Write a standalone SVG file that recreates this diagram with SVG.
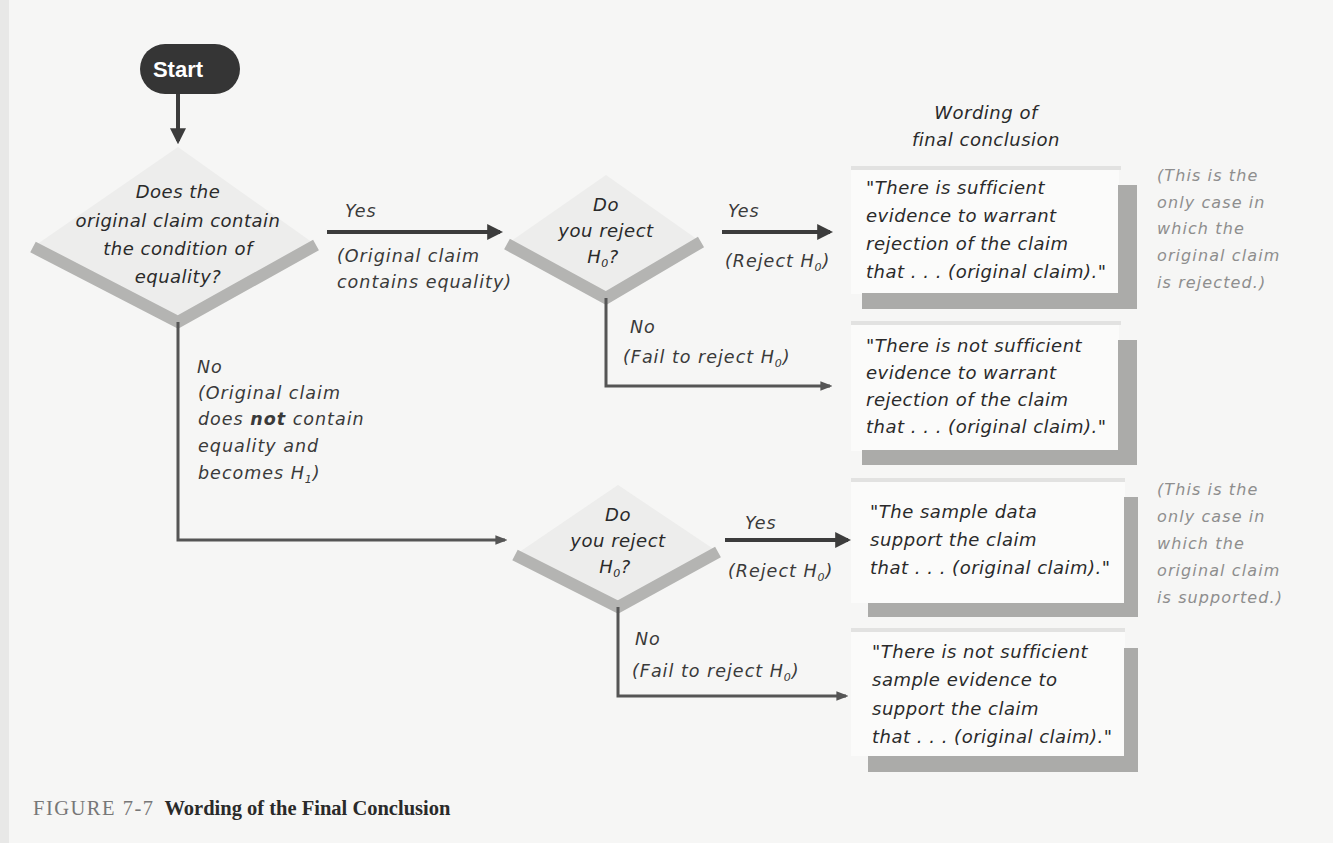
<svg xmlns="http://www.w3.org/2000/svg" width="1333" height="843" viewBox="0 0 1333 843">
<style>
.t{font-family:"DejaVu Sans","Liberation Sans",sans-serif;font-style:italic;font-size:18px;letter-spacing:0.5px;fill:#2a2a2a}
.g{fill:#8a8a8a}
.lbl{font-family:"DejaVu Sans","Liberation Sans",sans-serif;font-style:italic;font-size:17.5px;letter-spacing:1px;fill:#3a3a3a}
.n{font-family:"DejaVu Sans","Liberation Sans",sans-serif;font-style:italic;font-size:16px;letter-spacing:1.1px;fill:#8e8e8e}
.dfill{fill:#ededec}
.vband{fill:none;stroke:#b4b4b2;stroke-width:12;stroke-linejoin:miter}
.box{fill:#fbfbfa}
.top{fill:#e2e2e1}
.sh{fill:#ababa9}
.arr{fill:none;stroke:#3c3c3c;stroke-width:4}
.no{fill:none;stroke:#555;stroke-width:3}
</style>
<defs>
<marker id="ah" viewBox="0 0 10 10" refX="8" refY="5" markerWidth="4" markerHeight="4" orient="auto" markerUnits="strokeWidth"><path d="M0,0 L10,5 L0,10 z" fill="#3c3c3c"/></marker>
<marker id="ahn" viewBox="0 0 10 10" refX="8" refY="5" markerWidth="4" markerHeight="4" orient="auto" markerUnits="strokeWidth"><path d="M0,1 L10,5 L0,9 z" fill="#555"/></marker>
</defs>
<rect x="0" y="0" width="1333" height="843" fill="#f6f6f5"/>
<rect x="0" y="0" width="9" height="843" fill="#e8e8e7"/>

<g id="start">
<rect x="140" y="44" width="100" height="50" rx="25" fill="#353535"/>
<text x="178" y="77" font-family="Liberation Sans,Arial,sans-serif" font-weight="bold" font-size="22" fill="#fff" text-anchor="middle">Start</text>
</g>

<g id="d1">
<polygon class="dfill" points="178,147 33,247 178,322 316,245"/>
<polyline class="vband" points="33,247 178,322 316,245"/>
<text class="t" text-anchor="middle"><tspan x="178" y="198">Does the</tspan><tspan x="178" y="227">original claim contain</tspan><tspan x="178" y="255">the condition of</tspan><tspan x="178" y="283">equality?</tspan></text>
</g>

<g id="d2">
<polygon class="dfill" points="606,175 507,244 606,298 701,242"/>
<polyline class="vband" points="507,244 606,298 701,242"/>
<text class="t" text-anchor="middle"><tspan x="606" y="211">Do</tspan><tspan x="606" y="237">you reject</tspan><tspan x="603" y="263">H<tspan font-size="11" dy="4">0</tspan><tspan dy="-4">?</tspan></tspan></text>
</g>

<g id="d3">
<polygon class="dfill" points="618,485 515,555 618,607 718,552"/>
<polyline class="vband" points="515,555 618,607 718,552"/>
<text class="t" text-anchor="middle"><tspan x="618" y="521">Do</tspan><tspan x="618" y="547">you reject</tspan><tspan x="615" y="573">H<tspan font-size="11" dy="4">0</tspan><tspan dy="-4">?</tspan></tspan></text>
</g>

<g id="heading">
<text class="t" text-anchor="middle" letter-spacing="1"><tspan x="986" y="119">Wording of</tspan><tspan x="986" y="146">final conclusion</tspan></text>
</g>

<g id="c1">
<rect class="box" x="851" y="167" width="268" height="127"/>
<rect class="top" x="851" y="166" width="270" height="4"/>
<rect class="sh" x="1118" y="185" width="19" height="124"/>
<rect class="sh" x="862" y="293" width="275" height="16"/>
<text class="t"><tspan x="866" y="194">"There is sufficient</tspan><tspan x="866" y="222">evidence to warrant</tspan><tspan x="866" y="250">rejection of the claim</tspan><tspan x="866" y="278">that . . . (original claim)."</tspan></text>
</g>

<g id="c2">
<rect class="box" x="851" y="322" width="268" height="129"/>
<rect class="top" x="851" y="321" width="270" height="4"/>
<rect class="sh" x="1118" y="340" width="19" height="125"/>
<rect class="sh" x="862" y="450" width="275" height="15"/>
<text class="t"><tspan x="866" y="352">"There is not sufficient</tspan><tspan x="866" y="379">evidence to warrant</tspan><tspan x="866" y="406">rejection of the claim</tspan><tspan x="866" y="433">that . . . (original claim)."</tspan></text>
</g>

<g id="c3">
<rect class="box" x="851" y="479" width="274" height="124"/>
<rect class="top" x="851" y="478" width="274" height="4"/>
<rect class="sh" x="1124" y="497" width="14" height="120"/>
<rect class="sh" x="868" y="603" width="270" height="14"/>
<text class="t"><tspan x="870" y="518">"The sample data</tspan><tspan x="870" y="546">support the claim</tspan><tspan x="870" y="574">that . . . (original claim)."</tspan></text>
</g>

<g id="c4">
<rect class="box" x="851" y="629" width="274" height="127"/>
<rect class="top" x="851" y="628" width="274" height="4"/>
<rect class="sh" x="1124" y="648" width="14" height="124"/>
<rect class="sh" x="868" y="756" width="270" height="16"/>
<text class="t"><tspan x="872" y="658">"There is not sufficient</tspan><tspan x="872" y="686">sample evidence to</tspan><tspan x="872" y="715">support the claim</tspan><tspan x="872" y="743">that . . . (original claim)."</tspan></text>
</g>

<g id="note1">
<text class="n"><tspan x="1157" y="181">(This is the</tspan><tspan x="1157" y="208">only case in</tspan><tspan x="1157" y="234">which the</tspan><tspan x="1157" y="261">original claim</tspan><tspan x="1157" y="288">is rejected.)</tspan></text>
</g>
<g id="note2">
<text class="n"><tspan x="1157" y="495">(This is the</tspan><tspan x="1157" y="522">only case in</tspan><tspan x="1157" y="549">which the</tspan><tspan x="1157" y="576">original claim</tspan><tspan x="1157" y="603">is supported.)</tspan></text>
</g>

<g id="connectors">
<line class="arr" x1="178" y1="94" x2="178" y2="141" marker-end="url(#ah)"/>
<line class="arr" x1="327" y1="232" x2="500" y2="232" marker-end="url(#ah)"/>
<line class="arr" x1="722" y1="232" x2="830" y2="232" marker-end="url(#ah)"/>
<polyline class="no" points="606,298 606,386 830,386" marker-end="url(#ahn)"/>
<polyline class="no" points="178,322 178,540 505,540" marker-end="url(#ahn)"/>
<line class="arr" x1="725" y1="540" x2="848" y2="540" marker-end="url(#ah)"/>
<polyline class="no" points="618,607 618,696 846,696" marker-end="url(#ahn)"/>
<text class="lbl" x="345" y="217">Yes</text>
<text class="lbl"><tspan x="337" y="262">(Original claim</tspan><tspan x="337" y="288">contains equality)</tspan></text>
<text class="lbl" x="728" y="217">Yes</text>
<text class="lbl" x="725" y="267">(Reject H<tspan font-size="11" dy="4">0</tspan><tspan dy="-4">)</tspan></text>
<text class="lbl g" x="630" y="333">No</text>
<text class="lbl" x="623" y="363">(Fail to reject H<tspan font-size="11" dy="4">0</tspan><tspan dy="-4">)</tspan></text>
<text class="lbl g" x="197" y="373">No</text>
<text class="lbl"><tspan x="198" y="399">(Original claim</tspan><tspan x="198" y="425">does <tspan font-weight="bold">not</tspan> contain</tspan><tspan x="198" y="452">equality and</tspan><tspan x="198" y="479">becomes H<tspan font-size="11" dy="4">1</tspan><tspan dy="-4">)</tspan></tspan></text>
<text class="lbl" x="745" y="529">Yes</text>
<text class="lbl" x="728" y="577">(Reject H<tspan font-size="11" dy="4">0</tspan><tspan dy="-4">)</tspan></text>
<text class="lbl g" x="635" y="645">No</text>
<text class="lbl" x="632" y="677">(Fail to reject H<tspan font-size="11" dy="4">0</tspan><tspan dy="-4">)</tspan></text>
</g>

<g id="caption">
<text x="33" y="815" font-family="Liberation Serif,Times New Roman,serif" font-size="20.5"><tspan fill="#777" letter-spacing="1.5">FIGURE 7-7</tspan><tspan dx="10" font-weight="bold" fill="#2a2a2a">Wording of the Final Conclusion</tspan></text>
</g>
</svg>
